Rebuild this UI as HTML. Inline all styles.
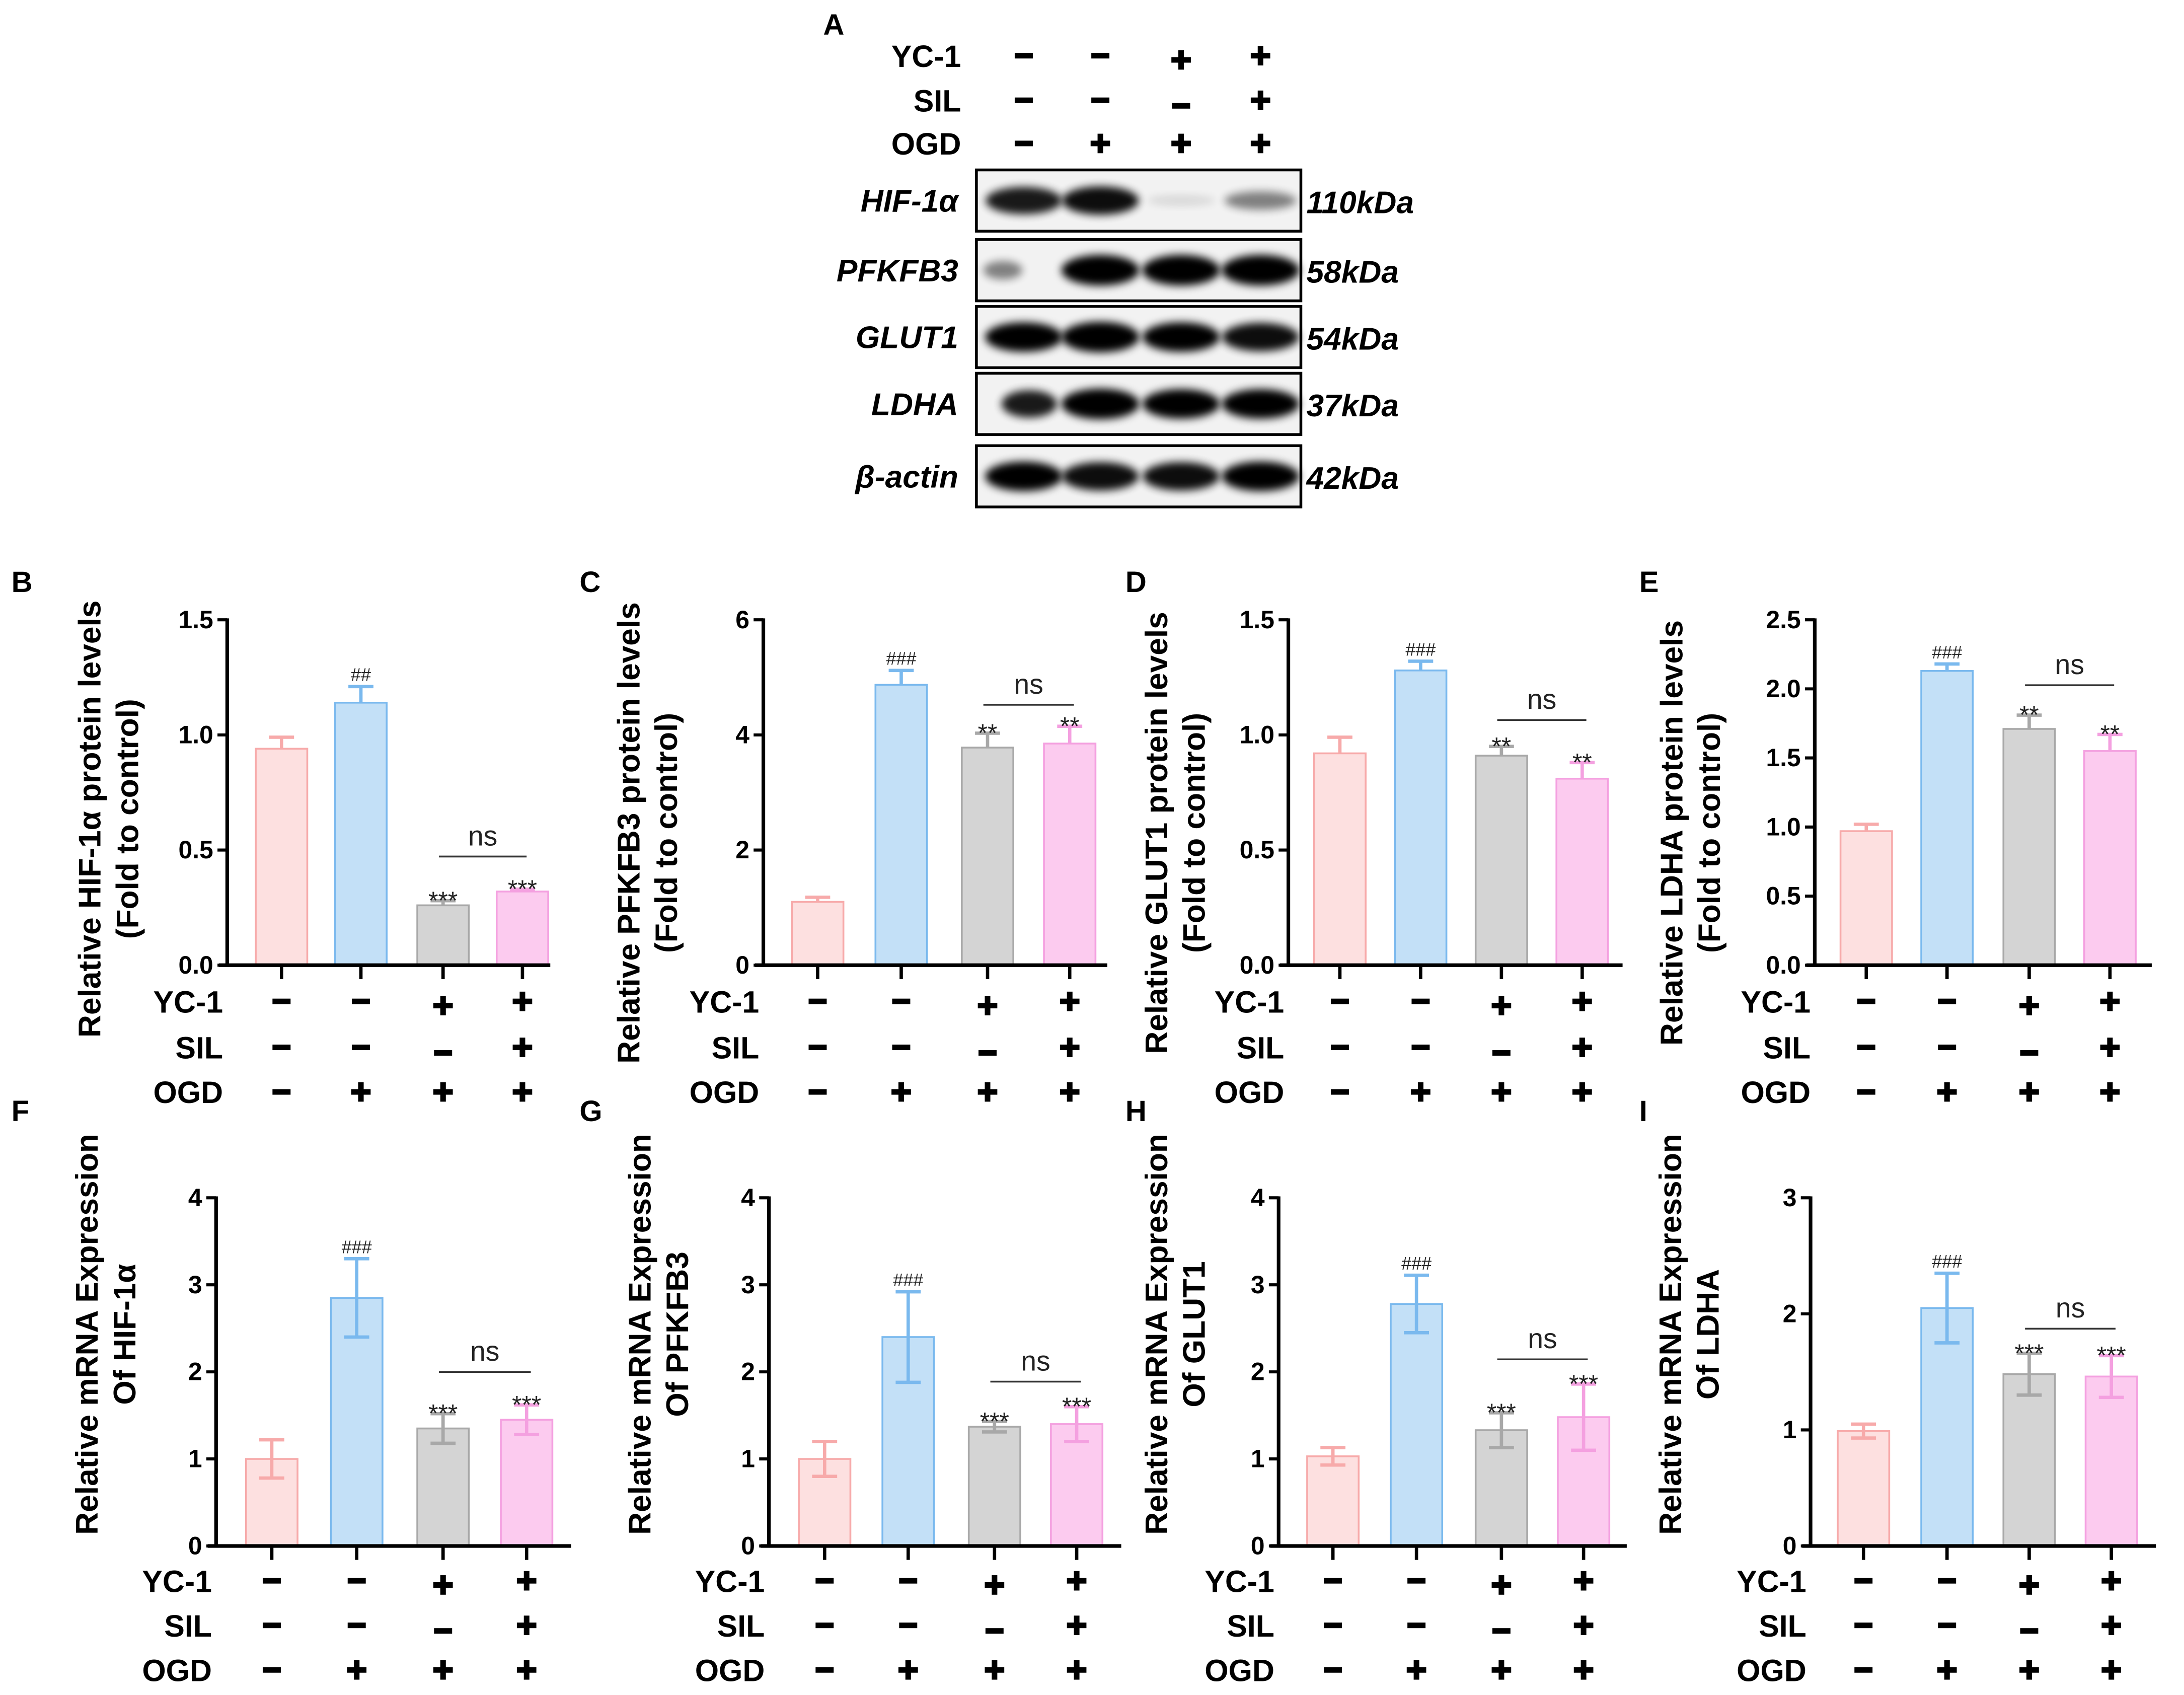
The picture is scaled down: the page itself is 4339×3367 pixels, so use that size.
<!DOCTYPE html>
<html><head><meta charset="utf-8"><style>
html,body{margin:0;padding:0;background:#fff}
svg{display:block}
text{font-family:"Liberation Sans",Arial,sans-serif}
</style></head><body>
<svg id="fig" width="4339" height="3367" viewBox="0 0 1568 1217" xmlns="http://www.w3.org/2000/svg">
<defs><filter id="blur" x="-20%" y="-50%" width="140%" height="200%"><feGaussianBlur stdDeviation="3"/></filter></defs>
<g id="blot"></g>
<g id="charts"></g>
</svg>
<script>
const NS='http://www.w3.org/2000/svg';
const groups=['Control','OGD','OGD+YC-1','OGD+YC-1+SIL'];
const yc1Signs=['-','-','+','+'];
const silSigns=['-','-','-','+'];
const ogdSigns=['-','+','+','+'];
const bValues=[0.94,1.14,0.26,0.32]; const bErrors=[0.05,0.07,0.02,0.01];
const cValues=[1.1,4.87,3.78,3.85]; const cErrors=[0.08,0.25,0.25,0.3];
const dValues=[0.92,1.28,0.91,0.81]; const dErrors=[0.07,0.04,0.04,0.07];
const eValues=[0.97,2.13,1.71,1.55]; const eErrors=[0.05,0.05,0.1,0.12];
const fValues=[1.0,2.85,1.35,1.45]; const fErrors=[0.22,0.45,0.17,0.17];
const gValues=[1.0,2.4,1.37,1.4]; const gErrors=[0.2,0.52,0.06,0.2];
const hValues=[1.03,2.78,1.33,1.48]; const hErrors=[0.1,0.33,0.2,0.38];
const iValues=[0.99,2.05,1.48,1.46]; const iErrors=[0.06,0.3,0.18,0.18];
const bTicks=['0.0','0.5','1.0','1.5']; const cTicks=['0','2','4','6'];
const dTicks=['0.0','0.5','1.0','1.5']; const eTicks=['0.0','0.5','1.0','1.5','2.0','2.5'];
const fTicks=['0','1','2','3','4']; const gTicks=['0','1','2','3','4'];
const hTicks=['0','1','2','3','4']; const iTicks=['0','1','2','3'];
const bSig=['','##','***','***']; const cSig=['','###','**','**'];
const dSig=['','###','**','**']; const eSig=['','###','**','**'];
const fSig=['','###','***','***']; const gSig=['','###','***','***'];
const hSig=['','###','***','***']; const iSig=['','###','***','***'];
const blotProteins=['HIF-1α','PFKFB3','GLUT1','LDHA','β-actin'];
const blotKda=['110kDa','58kDa','54kDa','37kDa','42kDa'];
const blotIntensity=[[0.85,0.9,0.1,0.45],[0.45,1,1,1],[0.95,1,0.95,0.9],[0.85,1,0.95,0.95],[0.95,0.9,0.9,0.95]];

const fills=['#fde0e0','#c3e0f7','#d4d4d4','#fccbef'];
const strokes=['#f7aaaa','#7ab9ee','#a8a8a8','#f4a0e0'];

function el(tag,attrs,parent,txt){const e=document.createElementNS(NS,tag);for(const k in attrs)e.setAttribute(k,attrs[k]);if(txt!==undefined)e.textContent=txt;parent.appendChild(e);return e;}
function sign(g,x,y,s){
  if(s==='-'){el('rect',{x:x-6.5,y:y-2,width:13,height:4,fill:'#000'},g);}
  else{el('rect',{x:x-7,y:y-2,width:14,height:4,fill:'#000'},g);el('rect',{x:x-2,y:y-7,width:4,height:14,fill:'#000'},g);}
}
function signRows(g,labelX,xs,rowYs){
  const labs=['YC-1','SIL','OGD'];const sets=[yc1Signs,silSigns,ogdSigns];
  labs.forEach((l,r)=>{
    const t=el('text',{x:labelX,y:rowYs[r]+8,'text-anchor':'end','font-size':22,'font-weight':'bold'},g,l);
    
    
    xs.forEach((x,i)=>sign(g,x,rowYs[r]+((r===1&&i===2)?4:0)+((r===0&&i===2)?3:0),sets[r][i]));
  });
}

// Blot
const blot=document.getElementById('blot');
el('text',{x:591,y:25,'font-size':21,'font-weight':'bold'},blot,'A');
const laneX=[735,790,848,905];
signRows(blot,690,laneX,[40,72,103]);
const rowTop=[122,172,220,268,320];
blotProteins.forEach((p,r)=>{
  const y=rowTop[r];
  const box=el('rect',{x:701,y:y,width:233,height:44,fill:'#f2f2f2',stroke:'#000','stroke-width':2},blot);
  
  
  laneX.forEach((x,i)=>{
    const v=blotIntensity[r][i];
    let cx=x, rx=24+4*v;
    if(r===1&&i===0){cx=x-15;rx=14;}
    if(r===3&&i===0){cx=x+4;rx=20;}
    const b=el('ellipse',{cx:cx,cy:y+22,rx:rx,ry:3+8*v,fill:'#000',opacity:Math.min(1,v*1.05),filter:'url(#blur)'},blot);
    
    
  });
  el('text',{x:688,y:y+30,'text-anchor':'end','font-size':22.5,'font-weight':'bold','font-style':'italic'},blot,p);
  el('text',{x:938,y:y+31,'font-size':22.5,'font-weight':'bold','font-style':'italic'},blot,blotKda[r]);
});

// Charts
const charts=document.getElementById('charts');
const panels=[
 {L:'B',lx:8,ly:425,ax:163,top:445,bot:693,right:395,max:1.5,ticks:bTicks,vals:bValues,errs:bErrors,sig:bSig,both:false,t1:'Relative HIF-1α protein levels',t2:'(Fold to control)',tx:72,ty:588,bars:[202,259,318,375],ns:[615],rows:[719,752,784]},
 {L:'C',lx:416,ly:425,ax:548,top:445,bot:693,right:795,max:6,ticks:cTicks,vals:cValues,errs:cErrors,sig:cSig,both:false,t1:'Relative PFKFB3 protein levels',t2:'(Fold to control)',tx:459,ty:598,bars:[587,647,709,768],ns:[506],rows:[719,752,784]},
 {L:'D',lx:808,ly:425,ax:925,top:445,bot:693,right:1165,max:1.5,ticks:dTicks,vals:dValues,errs:dErrors,sig:dSig,both:false,t1:'Relative GLUT1 protein levels',t2:'(Fold to control)',tx:838,ty:598,bars:[962,1020,1078,1136],ns:[517],rows:[719,752,784]},
 {L:'E',lx:1177,ly:425,ax:1303,top:445,bot:693,right:1545,max:2.5,ticks:eTicks,vals:eValues,errs:eErrors,sig:eSig,both:false,t1:'Relative LDHA protein levels',t2:'(Fold to control)',tx:1208,ty:598,bars:[1340,1398,1457,1515],ns:[492],rows:[719,752,784]},
 {L:'F',lx:8,ly:805,ax:155,top:860,bot:1110,right:410,max:4,ticks:fTicks,vals:fValues,errs:fErrors,sig:fSig,both:true,t1:'Relative mRNA Expression',t2:'Of HIF-1α',tx:70,ty:958,bars:[195,256,318,378],ns:[985],rows:[1135,1167,1199]},
 {L:'G',lx:416,ly:805,ax:552,top:860,bot:1110,right:805,max:4,ticks:gTicks,vals:gValues,errs:gErrors,sig:gSig,both:true,t1:'Relative mRNA Expression',t2:'Of PFKFB3',tx:467,ty:958,bars:[592,652,714,773],ns:[992],rows:[1135,1167,1199]},
 {L:'H',lx:808,ly:805,ax:918,top:860,bot:1110,right:1168,max:4,ticks:hTicks,vals:hValues,errs:hErrors,sig:hSig,both:true,t1:'Relative mRNA Expression',t2:'Of GLUT1',tx:838,ty:958,bars:[957,1017,1078,1137],ns:[976],rows:[1135,1167,1199]},
 {L:'I',lx:1177,ly:805,ax:1300,top:860,bot:1110,right:1548,max:3,ticks:iTicks,vals:iValues,errs:iErrors,sig:iSig,both:true,t1:'Relative mRNA Expression',t2:'Of LDHA',tx:1207,ty:958,bars:[1338,1398,1457,1516],ns:[954],rows:[1135,1167,1199]}
];
panels.forEach(p=>{
  const g=el('g',{},charts);
  
  
  el('text',{x:p.lx,y:p.ly,'font-size':21,'font-weight':'bold'},g,p.L);
  const y=v=>p.bot-(v/p.max)*(p.bot-p.top);
  const bw=37;
  p.vals.forEach((v,i)=>{
    const x=p.bars[i];
    const r=el('rect',{x:x-bw/2,y:y(v),width:bw,height:p.bot-y(v),fill:fills[i],stroke:strokes[i],'stroke-width':1.3},g);
    
    
    const e=p.errs[i];const yt=y(v+e);const yb=p.both?y(Math.max(0,v-e)):y(v);
    el('line',{x1:x,x2:x,y1:yt,y2:yb,stroke:strokes[i],'stroke-width':2.4},g);
    el('line',{x1:x-9,x2:x+9,y1:yt,y2:yt,stroke:strokes[i],'stroke-width':2.4},g);
    if(p.both)el('line',{x1:x-9,x2:x+9,y1:yb,y2:yb,stroke:strokes[i],'stroke-width':2.4},g);
    if(p.sig[i]){
      const isHash=p.sig[i][0]==='#';
      el('text',{x:x,y:isHash?yt-4:yt+6,'text-anchor':'middle','font-size':isHash?13:18,'font-family':isHash?'Liberation Serif':'Liberation Sans',fill:'#222'},g,p.sig[i]);
    }
    el('line',{x1:x,x2:x,y1:p.bot,y2:p.bot+10,stroke:'#000','stroke-width':2.4},g);
  });
  const ny=p.ns[0];
  el('line',{x1:p.bars[2]-3,x2:p.bars[3]+3,y1:ny,y2:ny,stroke:'#333','stroke-width':1.3},g);
  el('text',{x:(p.bars[2]+p.bars[3])/2,y:ny-8,'text-anchor':'middle','font-size':20,fill:'#222'},g,'ns');
  el('line',{x1:p.ax,x2:p.ax,y1:p.top-1,y2:p.bot+1,stroke:'#000','stroke-width':2.6},g);
  el('line',{x1:p.ax-6,x2:p.right,y1:p.bot,y2:p.bot,stroke:'#000','stroke-width':2.6},g);
  p.ticks.forEach((t,k)=>{
    const v=parseFloat(t);
    el('line',{x1:p.ax-7,x2:p.ax,y1:y(v),y2:y(v),stroke:'#000','stroke-width':2.2},g);
    el('text',{x:p.ax-10,y:y(v)+6,'text-anchor':'end','font-size':18,'font-weight':'bold'},g,t);
  });
  const tt=el('text',{transform:`translate(${p.tx},${p.ty}) rotate(-90)`,'text-anchor':'middle','font-size':22.5,'font-weight':'bold'},g);
  
  
  el('tspan',{x:0,y:0},tt,p.t1);
  el('tspan',{x:0,y:27},tt,p.t2);
  signRows(g,p.ax-3,p.bars,p.rows);
});
</script>
</body></html>
